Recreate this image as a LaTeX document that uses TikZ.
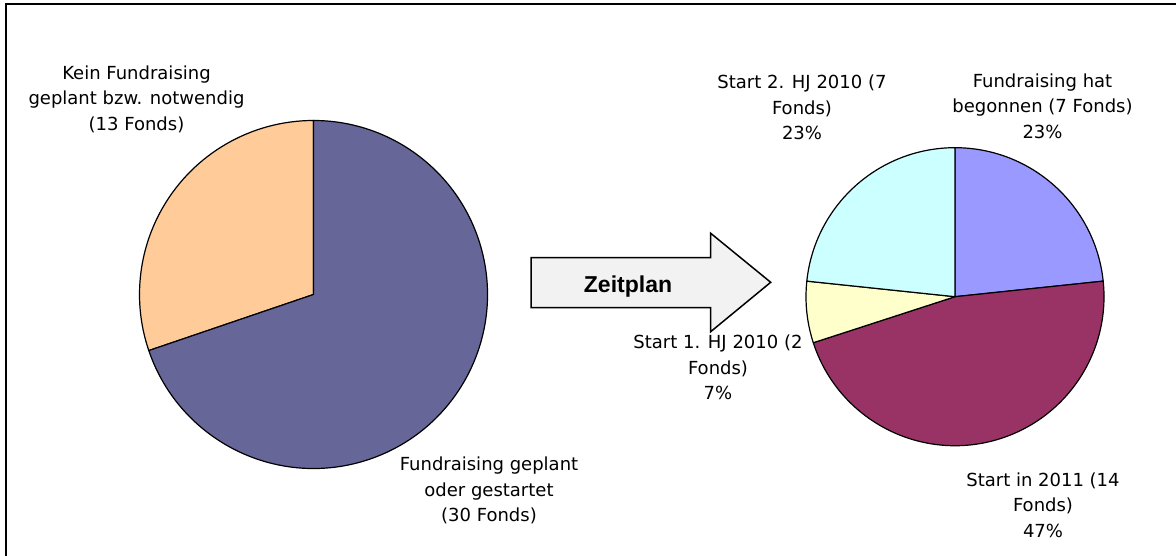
\documentclass[tikz,border=0pt]{standalone}
\usepackage{fontspec}
\newfontfamily\labfont{DejaVu Sans}
\newfontfamily\arrfont{Liberation Sans}
\definecolor{lorange}{HTML}{FFCC99}
\definecolor{lpurple}{HTML}{666699}
\definecolor{rblue}{HTML}{9999FF}
\definecolor{rwine}{HTML}{993366}
\definecolor{ryellow}{HTML}{FFFFCC}
\definecolor{rcyan}{HTML}{CCFFFF}
\definecolor{arrfill}{HTML}{F2F2F2}
\tikzset{
  slice/.style={draw=black,line width=1.2pt,line join=round},
  lab/.style={align=center,anchor=base,inner sep=0pt,font=\labfont\fontsize{18}{25.5}\selectfont},
}
\begin{document}
\begin{tikzpicture}[x=1pt,y=1pt]
\useasboundingbox (0,0) rectangle (1176,556);
% frame (left and top edges)
\draw[line width=2pt] (6,0) -- (6,552) -- (1176,552);
% left pie
\coordinate (lc) at (313.5,261.5);
\filldraw[slice,fill=lorange] (lc) -- ++(90:174) arc[start angle=90,end angle=198.8,radius=174] -- cycle;
\filldraw[slice,fill=lpurple] (lc) -- ++(198.8:174) arc[start angle=198.8,end angle=450,radius=174] -- cycle;
% right pie
\coordinate (rc) at (955,259.3);
\filldraw[slice,fill=rblue] (rc) -- ++(6:149) arc[start angle=6,end angle=90,radius=149] -- cycle;
\filldraw[slice,fill=rwine] (rc) -- ++(-162:149) arc[start angle=-162,end angle=6,radius=149] -- cycle;
\filldraw[slice,fill=ryellow] (rc) -- ++(174:149) arc[start angle=174,end angle=198,radius=149] -- cycle;
\filldraw[slice,fill=rcyan] (rc) -- ++(90:149) arc[start angle=90,end angle=174,radius=149] -- cycle;
% arrow
\filldraw[fill=arrfill,draw=black,line width=1.5pt,line join=miter]
  (531,298.3) -- (710.7,298.3) -- (710.7,322.7) -- (770.7,273.7) -- (710.7,224.3) -- (710.7,248.3) -- (531,248.3) -- cycle;
\node[anchor=base,inner sep=0pt,font=\arrfont\bfseries\fontsize{23}{27}\selectfont] (zeit) at (628,263.3) {Zeitplan};
% labels (anchor = baseline of last line)
\node[lab] (l1) at (136.5,425.5) {Kein Fundraising\\geplant bzw. notwendig\\(13 Fonds)};
\node[lab] (l2) at (489,34.3) {Fundraising geplant\\oder gestartet\\(30 Fonds)};
\node[lab] (r1) at (802,416) {Start 2. HJ 2010 (7\\Fonds)\\23\%};
\node[lab] (r2) at (1042.5,417.7) {Fundraising hat\\begonnen (7 Fonds)\\23\%};
\node[lab] (r3) at (718,156) {Start 1. HJ 2010 (2\\Fonds)\\7\%};
\node[lab] (r4) at (1043,18.7) {Start in 2011 (14\\Fonds)\\47\%};
\end{tikzpicture}
\end{document}
